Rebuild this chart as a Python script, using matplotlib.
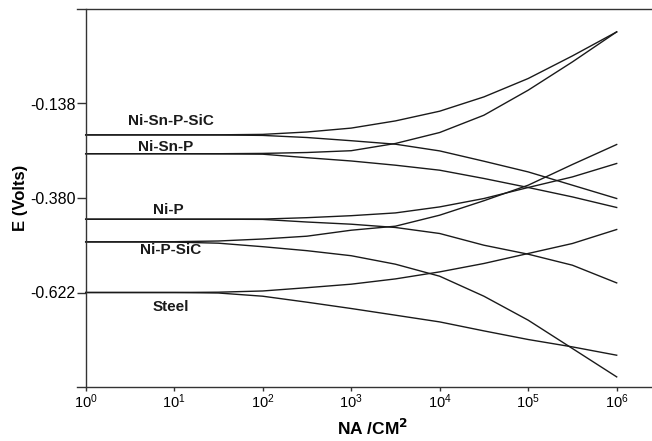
import matplotlib
matplotlib.use("Agg")
import matplotlib.pyplot as plt

# current density (nA/cm2) read at each decade / half decade
corriente = [1, 10, 31.6, 100, 316, 1e3, 3.16e3, 1e4, 3.16e4, 1e5, 3.16e5, 1e6]

# potential (V) - anodic and cathodic branch of each coating
ni_sn_p_sic_an = [-0.2184, -0.2184, -0.2182, -0.2171, -0.2110, -0.2010, -0.1826, -0.1577, -0.1211, -0.0740, -0.0161, 0.0454]
ni_sn_p_sic_ca = [-0.2184, -0.2184, -0.2186, -0.2197, -0.2251, -0.2333, -0.2422, -0.2594, -0.2858, -0.3132, -0.3472, -0.3813]
ni_sn_p_an = [-0.2666, -0.2666, -0.2666, -0.2658, -0.2635, -0.2589, -0.2404, -0.2123, -0.1680, -0.1039, -0.0315, 0.0454]
ni_sn_p_ca = [-0.2666, -0.2666, -0.2669, -0.2678, -0.2768, -0.2852, -0.2960, -0.3088, -0.3300, -0.3531, -0.3772, -0.4043]
ni_p_an = [-0.4343, -0.4343, -0.4343, -0.4340, -0.4304, -0.4253, -0.4182, -0.4028, -0.3813, -0.3531, -0.3260, -0.2916]
ni_p_ca = [-0.4343, -0.4343, -0.4343, -0.4348, -0.4415, -0.4471, -0.4555, -0.4709, -0.5009, -0.5239, -0.5521, -0.5974]
ni_p_sic_an = [-0.4924, -0.4919, -0.4901, -0.4850, -0.4778, -0.4625, -0.4522, -0.4240, -0.3870, -0.3472, -0.2942, -0.2430]
ni_p_sic_ca = [-0.4924, -0.4929, -0.4957, -0.5047, -0.5149, -0.5278, -0.5495, -0.5803, -0.6315, -0.6929, -0.7654, -0.8381]
steel_an = [-0.6220, -0.6220, -0.6212, -0.6181, -0.6097, -0.6007, -0.5872, -0.5692, -0.5477, -0.5221, -0.4965, -0.4607]
steel_ca = [-0.6220, -0.6220, -0.6233, -0.6315, -0.6468, -0.6630, -0.6801, -0.6973, -0.7203, -0.7424, -0.7613, -0.7826]

rotulos = ["Ni-Sn-P-SiC", "Ni-Sn-P", "Ni-P", "Ni-P-SiC", "Steel"]
rotulo_x = [9.1, 8.0, 8.5, 9.0, 9.1]
rotulo_y = [-0.183, -0.249, -0.411, -0.514, -0.660]

yticks = [-0.138, -0.380, -0.622]
xticks = [1, 10, 100, 1e3, 1e4, 1e5, 1e6]
xtick_labels = [r"$\mathregular{10^{%d}}$" % i for i in range(7)]

plt.rcParams["font.family"] = ["Liberation Sans", "DejaVu Sans"]

fig = plt.figure(figsize=(6.52, 4.41), dpi=100)
ax = fig.add_axes([77 / 652, 54 / 441, 575 / 652, 378 / 441])

cor = "#1a1a1a"
for serie in [ni_sn_p_sic_an, ni_sn_p_sic_ca, ni_sn_p_an, ni_sn_p_ca,
              ni_p_an, ni_p_ca, ni_p_sic_an, ni_p_sic_ca, steel_an, steel_ca]:
    ax.plot(corriente, serie, color=cor, lw=1.0)

for txt, x, y in zip(rotulos, rotulo_x, rotulo_y):
    ax.text(x, y, txt, ha="center", va="center", fontsize=11,
            fontweight="bold", color=cor)

ax.set_xscale("log")
ax.set_xlim(10 ** -0.098, 10 ** 6.399)
ax.set_ylim(-0.864, 0.104)

ax.spines["right"].set_visible(False)
ax.spines["left"].set_position(("data", 1))
for s in ["left", "top", "bottom"]:
    ax.spines[s].set_color("#333333")
    ax.spines[s].set_linewidth(1.0)

ax.set_yticks(yticks)
ax.set_yticklabels(["%.3f" % v for v in yticks])
ax.set_xticks(xticks)
ax.set_xticklabels(xtick_labels)
ax.xaxis.set_minor_locator(matplotlib.ticker.NullLocator())
ax.tick_params(axis="y", direction="out", length=6.5, width=1.0,
               color="#333333", labelsize=11.5, pad=1)
ax.tick_params(axis="x", direction="out", length=3, width=1.0,
               color="#333333", labelsize=10.5, pad=1)

fig.text(373 / 652, 1 - 428 / 441, r"NA /CM$^{\mathbf{2}}$", ha="center",
         va="center", fontsize=12.5, fontweight="bold")
fig.text(20 / 652, 1 - 198 / 441, "E (Volts)", ha="center", va="center",
         rotation=90, fontsize=12, fontweight="bold")

fig.savefig("out.png", dpi=100)
